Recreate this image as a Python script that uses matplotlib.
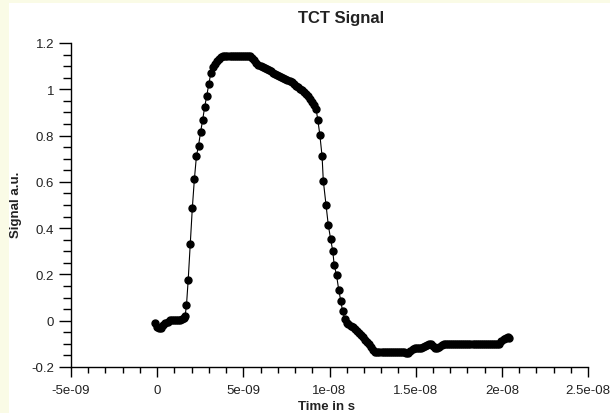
import matplotlib
matplotlib.use("Agg")
import matplotlib.pyplot as plt
import numpy as np
from matplotlib.patches import Rectangle

plt.rcParams['font.family'] = ['Liberation Sans', 'DejaVu Sans']

title = "TCT Signal"
xlabel = "Time in s"
ylabel = "Signal a.u."

# time in ns
time_ns = [
    -0.12, 0.00, 0.12, 0.24, 0.36, 0.48, 0.60, 0.72, 0.84, 0.96,
    1.08, 1.20, 1.32, 1.44, 1.56, 1.62, 1.70, 1.80, 1.92, 2.04,
    2.16, 2.28, 2.40, 2.52, 2.64, 2.76, 2.88, 3.00, 3.12, 3.24,
    3.36, 3.48, 3.60, 3.72, 3.84, 3.96, 4.08, 4.20, 4.32, 4.44,
    4.56, 4.68, 4.80, 4.92, 5.04, 5.16, 5.28, 5.40, 5.52, 5.64,
    5.76, 5.88, 6.00, 6.12, 6.24, 6.36, 6.48, 6.60, 6.72, 6.84,
    6.96, 7.08, 7.20, 7.32, 7.44, 7.56, 7.68, 7.80, 7.92, 8.04,
    8.16, 8.28, 8.40, 8.52, 8.64, 8.76, 8.88, 9.00, 9.12, 9.22,
    9.32, 9.44, 9.57, 9.64, 9.80, 9.93, 10.07, 10.19, 10.27, 10.41,
    10.54, 10.66, 10.76, 10.89, 11.00, 11.10, 11.22, 11.34, 11.46, 11.58,
    11.70, 11.82, 11.94, 12.06, 12.18, 12.30, 12.42, 12.54, 12.66, 12.78,
    12.90, 13.02, 13.14, 13.26, 13.38, 13.50, 13.62, 13.74, 13.86, 13.98,
    14.10, 14.22, 14.34, 14.46, 14.58, 14.70, 14.82, 14.94, 15.06, 15.18,
    15.30, 15.42, 15.54, 15.66, 15.78, 15.90, 16.02, 16.14, 16.26, 16.38,
    16.50, 16.62, 16.74, 16.86, 16.98, 17.10, 17.22, 17.34, 17.46, 17.58,
    17.70, 17.82, 17.94, 18.06, 18.18, 18.30, 18.42, 18.54, 18.66, 18.78,
    18.90, 19.02, 19.14, 19.26, 19.38, 19.50, 19.62, 19.74, 19.86, 19.98,
    20.10, 20.22, 20.34, 20.42,
]

signal = [
    -0.012, -0.028, -0.033, -0.030, -0.020, -0.012, -0.004, 0.003, 0.005, 0.005,
    0.005, 0.005, 0.005, 0.007, 0.012, 0.020, 0.066, 0.176, 0.330, 0.487,
    0.612, 0.712, 0.757, 0.815, 0.868, 0.925, 0.973, 1.024, 1.072, 1.097,
    1.110, 1.122, 1.132, 1.139, 1.143, 1.145, 1.145, 1.145, 1.145, 1.145,
    1.145, 1.145, 1.145, 1.145, 1.145, 1.145, 1.145, 1.143, 1.135, 1.125,
    1.115, 1.107, 1.101, 1.097, 1.092, 1.087, 1.082, 1.077, 1.072, 1.067,
    1.062, 1.057, 1.053, 1.049, 1.045, 1.041, 1.036, 1.030, 1.023, 1.016,
    1.009, 1.002, 0.995, 0.987, 0.978, 0.969, 0.959, 0.947, 0.933, 0.915,
    0.869, 0.803, 0.710, 0.605, 0.500, 0.413, 0.351, 0.301, 0.242, 0.196,
    0.131, 0.084, 0.040, 0.008, -0.008, -0.016, -0.021, -0.028, -0.034, -0.043,
    -0.051, -0.061, -0.072, -0.083, -0.092, -0.101, -0.114, -0.126, -0.134, -0.135,
    -0.135, -0.135, -0.135, -0.135, -0.135, -0.135, -0.135, -0.135, -0.135, -0.135,
    -0.135, -0.135, -0.135, -0.141, -0.139, -0.131, -0.124, -0.120, -0.119, -0.118,
    -0.117, -0.114, -0.110, -0.104, -0.101, -0.102, -0.108, -0.116, -0.119, -0.115,
    -0.107, -0.102, -0.101, -0.101, -0.101, -0.101, -0.101, -0.101, -0.101, -0.101,
    -0.101, -0.101, -0.101, -0.101, -0.101, -0.101, -0.101, -0.101, -0.101, -0.101,
    -0.101, -0.101, -0.101, -0.101, -0.101, -0.101, -0.101, -0.101, -0.101, -0.088,
    -0.080, -0.075, -0.072, -0.073,
]

xticks = [-5e-09, 0, 5e-09, 1e-08, 1.5e-08, 2e-08, 2.5e-08]
xtick_labels = ["-5e-09", "0", "5e-09", "1e-08", "1.5e-08", "2e-08", "2.5e-08"]
yticks = [-0.2, 0, 0.2, 0.4, 0.6, 0.8, 1.0, 1.2]
ytick_labels = ["-0.2", "0", "0.2", "0.4", "0.6", "0.8", "1", "1.2"]

W, H = 610, 414
cream = '#fafbe6'
fig = plt.figure(figsize=(W / 100, H / 100), dpi=100)
fig.patch.set_facecolor('white')
# cream border strips (left and top)
fig.patches.append(Rectangle((0, 0), 9 / W, 1, transform=fig.transFigure,
                             facecolor=cream, edgecolor='none', zorder=-5))
fig.patches.append(Rectangle((0, 1 - 4 / H), 1, 4 / H, transform=fig.transFigure,
                             facecolor=cream, edgecolor='none', zorder=-5))

ax = fig.add_axes([71 / W, 46 / H, (588 - 71) / W, (368 - 44) / H])
ax.set_facecolor('none')

t = np.array(time_ns) * 1e-9
ax.plot(t, signal, color='black', linewidth=0.8, marker='o', markersize=5.0,
        markerfacecolor='black', markeredgecolor='black', clip_on=False)

ax.set_xlim(-5e-09, 2.5e-08)
ax.set_ylim(-0.2, 1.2)
ax.set_xticks(xticks)
ax.set_xticklabels(xtick_labels)
ax.set_yticks(yticks)
ax.set_yticklabels(ytick_labels)
ax.set_xticks(np.arange(-5e-09, 2.5e-08 + 1e-12, 1e-09), minor=True)
ax.set_yticks(np.arange(-0.2, 1.2 + 1e-9, 0.05), minor=True)

for s in ['top', 'right']:
    ax.spines[s].set_visible(False)
for s in ['left', 'bottom']:
    ax.spines[s].set_linewidth(1.0)
    ax.spines[s].set_color('black')

ax.tick_params(axis='x', which='major', length=7, width=1.0, pad=5,
               labelsize=9.5, labelcolor='#222222')
ax.tick_params(axis='x', which='minor', length=4.5, width=1.0)
ax.tick_params(axis='y', which='major', length=9, width=1.0, pad=3,
               labelsize=9.5, labelcolor='#222222')
ax.tick_params(axis='y', which='minor', length=5.5, width=1.0)

fig.text(341 / W, 1 - 18 / H, title, ha='center', va='center',
         fontsize=12, fontweight='bold', color='#222222')
fig.text(327 / W, 1 - 407 / H, xlabel, ha='center', va='center',
         fontsize=9.5, fontweight='bold', color='#222222')
fig.text(16 / W, 1 - 205 / H, ylabel, ha='center', va='center', rotation=90,
         fontsize=9.5, fontweight='bold', color='#222222')

fig.savefig('out.png', dpi=100, facecolor=fig.get_facecolor())
